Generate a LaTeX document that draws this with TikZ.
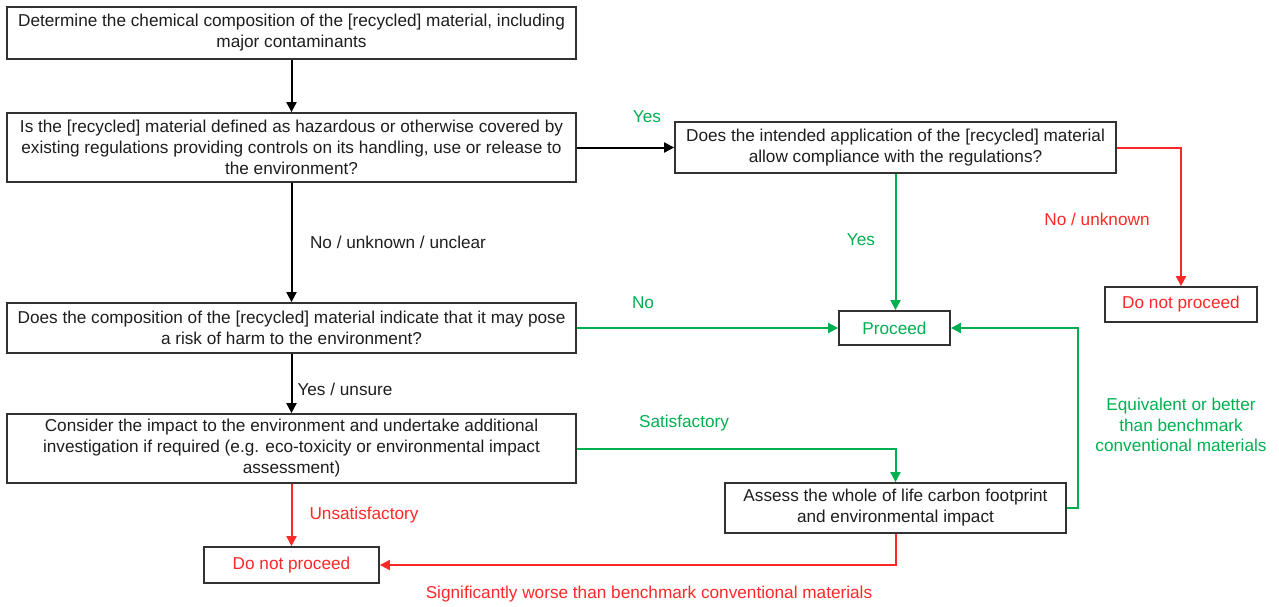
\documentclass[tikz,border=0pt]{standalone}
\usepackage{fontspec}
\setmainfont{Liberation Sans}
\usetikzlibrary{arrows.meta}
\definecolor{okgreen}{RGB}{0,176,80}
\definecolor{stopred}{RGB}{255,40,40}
\definecolor{boxline}{RGB}{50,50,50}
\definecolor{ink}{RGB}{30,30,30}
\tikzset{
  base/.style={font=\fontsize{17.2}{21}\selectfont, align=center, text=ink},
  box/.style={base, draw=boxline, line width=1.8pt, fill=white, inner sep=0pt},
  lbl/.style={base},
  arr/.style={line width=2pt, -{Triangle[length=10pt,width=10pt]}},
  blackarr/.style={arr, draw=black},
  greenarr/.style={arr, draw=okgreen},
  redarr/.style={arr, draw=stopred},
}
\begin{document}
\begin{tikzpicture}[x=1pt,y=-1pt]
\useasboundingbox (0,0) rectangle (1279,606);

% process boxes
\node[box, minimum width=569pt, minimum height=52pt] (b1) at (291.5,33)
  {Determine the chemical composition of the [recycled] material, including\\major contaminants};
\node[box, minimum width=569pt, minimum height=69pt] (b2) at (291.5,147.5)
  {Is the [recycled] material defined as hazardous or otherwise covered by\\existing regulations providing controls on its handling, use or release to\\the environment?};
\node[box, minimum width=441pt, minimum height=51pt] (q2) at (895.5,147.5)
  {Does the intended application of the [recycled] material\\allow compliance with the regulations?};
\node[box, minimum width=152pt, minimum height=35pt, text=stopred] (dnpr) at (1181,304.5)
  {Do not proceed};
\node[box, minimum width=111pt, minimum height=34pt, text=okgreen] (proc) at (894.5,328)
  {Proceed};
\node[box, minimum width=569pt, minimum height=50pt] (b3) at (291.5,328)
  {Does the composition of the [recycled] material indicate that it may pose\\a risk of harm to the environment?};
\node[box, minimum width=569pt, minimum height=69pt] (b4) at (291.5,448.5)
  {Consider the impact to the environment and undertake additional\\investigation if required (e.g. eco-toxicity or environmental impact\\assessment)};
\node[box, minimum width=341pt, minimum height=50pt] (assess) at (895.5,508)
  {Assess the whole of life carbon footprint\\and environmental impact};
\node[box, minimum width=175pt, minimum height=36pt, text=stopred] (dnpb) at (291.5,565)
  {Do not proceed};

% connectors
\draw[blackarr] (b1.south) -- (b2.north);
\draw[blackarr] (b2.east) -- (q2.west);
\draw[blackarr] (b2.south) -- (b3.north);
\draw[blackarr] (b3.south) -- (b4.north);
\draw[greenarr] (q2.south) -- (q2.south |- proc.north);
\draw[redarr] (q2.east) -| (dnpr.north);
\draw[greenarr] (b3.east) -- (proc.west);
\draw[greenarr] (b4.east) -| (assess.north);
\draw[redarr] (b4.south) -- (dnpb.north);
\draw[greenarr] (assess.east) -- ++(11,0) |- (proc.east);
\draw[redarr] (assess.south) |- (dnpb.east);

% connector labels
\node[lbl, text=okgreen] (lyes1) at (647,117) {Yes};
\node[lbl] (lno1) at (398,242) {No / unknown / unclear};
\node[lbl, text=okgreen] (lyes2) at (861,240) {Yes};
\node[lbl, text=stopred] (lno2) at (1097,219) {No / unknown};
\node[lbl, text=okgreen] (lno3) at (643,303) {No};
\node[lbl] (lyes3) at (345,389) {Yes / unsure};
\node[lbl, text=okgreen] (lsat) at (684,423) {Satisfactory};
\node[lbl, text=stopred] (lunsat) at (364,515) {Unsatisfactory};
\node[lbl, text=okgreen, font=\fontsize{17.2}{20.5}\selectfont] (lequiv) at (1181,425)
  {Equivalent or better\\than benchmark\\conventional materials};
\node[lbl, text=stopred] (lworse) at (649,594)
  {Significantly worse than benchmark conventional materials};
\end{tikzpicture}
\end{document}
